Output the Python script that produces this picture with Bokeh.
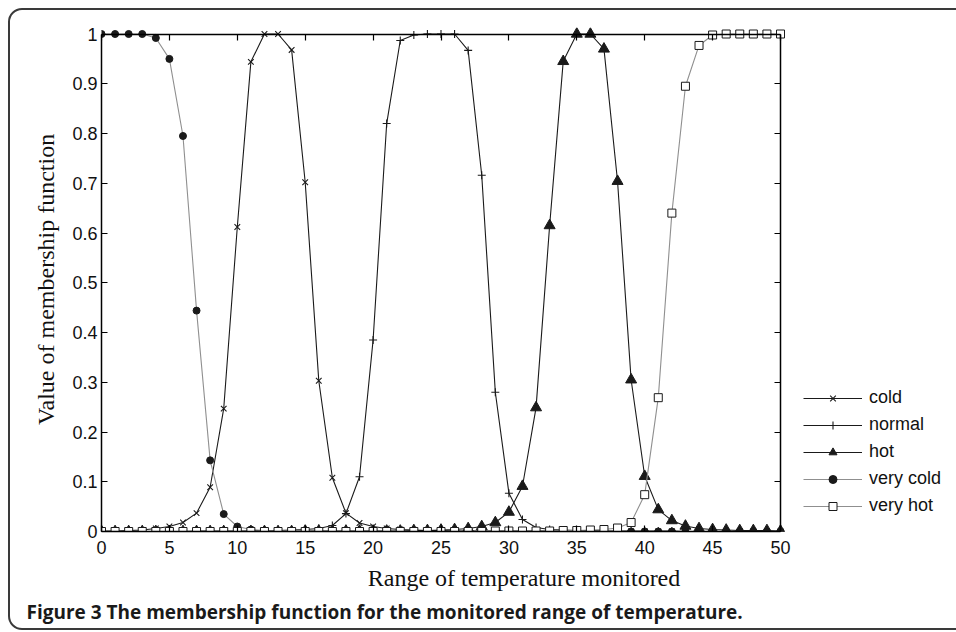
from bokeh.plotting import figure
from bokeh.models import (Range1d, LinearAxis, FixedTicker, Legend, LegendItem,
                          Title, InlineStyleSheet)
from bokeh.embed import file_html
from bokeh.resources import INLINE

temperature = list(range(0, 51))

cold = [0.001, 0.001, 0.002, 0.003, 0.006, 0.010, 0.018, 0.037, 0.089, 0.247,
        0.612, 0.944, 1.000, 1.000, 0.968, 0.702, 0.303, 0.108, 0.037, 0.017,
        0.010, 0.006, 0.004, 0.003, 0.002, 0.002, 0.001, 0.001, 0.001, 0.001,
        0.001, 0.001, 0.001, 0.001, 0.001, 0.001, 0.001, 0.000, 0.000, 0.000,
        0.000, 0.000, 0.000, 0.000, 0.000, 0.000, 0.000, 0.000, 0.000, 0.000,
        0.000]
normal = [0.000, 0.000, 0.000, 0.000, 0.000, 0.000, 0.000, 0.001, 0.001, 0.001,
          0.001, 0.001, 0.002, 0.002, 0.003, 0.004, 0.006, 0.012, 0.036, 0.110,
          0.385, 0.820, 0.987, 0.998, 1.000, 1.000, 1.000, 0.967, 0.716, 0.280,
          0.077, 0.024, 0.008, 0.004, 0.003, 0.002, 0.002, 0.001, 0.001, 0.001,
          0.001, 0.001, 0.001, 0.000, 0.000, 0.000, 0.000, 0.000, 0.000, 0.000,
          0.000]
hot = [0.000, 0.000, 0.000, 0.000, 0.000, 0.000, 0.000, 0.000, 0.000, 0.000,
       0.000, 0.000, 0.000, 0.000, 0.000, 0.001, 0.001, 0.001, 0.001, 0.001,
       0.001, 0.001, 0.001, 0.002, 0.002, 0.003, 0.004, 0.006, 0.010, 0.018,
       0.039, 0.091, 0.249, 0.615, 0.945, 1.000, 1.000, 0.970, 0.704, 0.305,
       0.111, 0.044, 0.022, 0.011, 0.006, 0.004, 0.003, 0.002, 0.002, 0.002,
       0.001]
very_cold = [1.000, 1.000, 1.000, 1.000, 0.992, 0.950, 0.795, 0.444, 0.143, 0.035,
             0.010, 0.004, 0.002, 0.001, 0.001, 0.001, 0.000, 0.000, 0.000, 0.000,
             0.000, 0.000, 0.000, 0.000, 0.000, 0.000, 0.000, 0.000, 0.000, 0.000,
             0.000, 0.000, 0.000, 0.000, 0.000, 0.000, 0.000, 0.000, 0.000, 0.000,
             0.000, 0.000, 0.000, 0.000, 0.000, 0.000, 0.000, 0.000, 0.000, 0.000,
             0.000]
very_hot = [0.000, 0.000, 0.000, 0.000, 0.000, 0.000, 0.000, 0.000, 0.000, 0.000,
            0.000, 0.000, 0.000, 0.000, 0.000, 0.000, 0.000, 0.000, 0.000, 0.000,
            0.000, 0.000, 0.000, 0.000, 0.000, 0.000, 0.000, 0.000, 0.000, 0.001,
            0.001, 0.001, 0.001, 0.001, 0.002, 0.002, 0.003, 0.004, 0.007, 0.018,
            0.074, 0.269, 0.640, 0.895, 0.977, 0.998, 1.000, 1.000, 1.000, 1.000,
            1.000]

series_names = ["cold", "normal", "hot", "very cold", "very hot"]
x_ticks = [0, 5, 10, 15, 20, 25, 30, 35, 40, 45, 50]
y_ticks = [0, 0.1, 0.2, 0.3, 0.4, 0.5, 0.6, 0.7, 0.8, 0.9, 1]
y_tick_labels = ["0", "0.1", "0.2", "0.3", "0.4", "0.5", "0.6", "0.7", "0.8", "0.9", "1"]
x_min, x_max = 0, 50
y_min, y_max = 0, 1

x_label = "Range of temperature monitored"
y_label = "Value of membership function"
caption = "Figure 3 The membership function for the monitored range of temperature."

TICK_FONT = "Liberation Sans"
SERIF = "Liberation Serif"

# frame geometry (pixels): the axes box starts at the frame's left/bottom edges,
# the frame continues to the right (legend area) and a little above y=1
W, H = 956, 632
FL, FR, FT, FB = 101, 946, 27, 531
AR, AT = 780.0, 33.5
sx = (AR - FL) / (x_max - x_min)
sy = (FB - AT) / (y_max - y_min)
x_range = Range1d(x_min, x_max + (FR - AR) / sx)
y_range = Range1d(y_min, y_max + (AT - FT) / sy)

p = figure(width=W, height=H, output_backend="svg", toolbar_location=None,
           x_range=x_range, y_range=y_range,
           min_border_left=FL, min_border_right=W - FR, min_border_top=FT,
           min_border_bottom=H - FB)
p.grid.visible = False
p.outline_line_color = None
p.background_fill_color = "white"
p.border_fill_color = "white"

# rounded figure frame (page decoration)
p.stylesheets = [InlineStyleSheet(css="""
:host { position: relative; overflow: hidden; }
:host::after {
  content: ""; position: absolute; left: 8px; top: 8px; right: -40px; bottom: 2px;
  border: 2px solid #3a3a3a; border-radius: 14px; pointer-events: none;
}
""")]


def style_axis(ax, show_labels=True):
    ax.axis_line_color = "black"
    ax.axis_line_width = 1.5
    ax.major_tick_line_color = "black"
    ax.major_tick_line_width = 1.2
    ax.major_tick_in = 6
    ax.major_tick_out = 0
    ax.minor_tick_in = 0
    ax.minor_tick_out = 0
    ax.minor_tick_line_color = None
    if show_labels:
        ax.major_label_text_font = TICK_FONT
        ax.major_label_text_font_size = "18px"
        ax.major_label_text_color = "#111111"
    else:
        ax.major_label_text_font_size = "0px"
        ax.major_label_text_color = None
        ax.major_label_standoff = 0


xa = p.xaxis[0]
xa.ticker = FixedTicker(ticks=x_ticks)
xa.bounds = (x_min, x_max)
style_axis(xa)
xa.major_label_standoff = 9
xa.axis_label = x_label
xa.axis_label_text_font = SERIF
xa.axis_label_text_font_size = "24px"
xa.axis_label_text_font_style = "normal"
xa.axis_label_text_color = "#111111"
xa.axis_label_standoff = 8

ya = p.yaxis[0]
ya.ticker = FixedTicker(ticks=y_ticks)
ya.bounds = (y_min, y_max)
style_axis(ya)
ya.major_label_standoff = 4
ya.major_label_overrides = dict(zip(y_ticks, y_tick_labels))
ya.axis_label = y_label
ya.axis_label_text_font = SERIF
ya.axis_label_text_font_size = "24px"
ya.axis_label_text_font_style = "normal"
ya.axis_label_text_color = "#111111"
ya.axis_label_standoff = 10

# box edges at x = 50 and y = 1 with inward ticks
ra = LinearAxis(ticker=FixedTicker(ticks=y_ticks), fixed_location=x_max,
                bounds=(y_min, y_max))
style_axis(ra, show_labels=False)
p.add_layout(ra, "right")
ta = LinearAxis(ticker=FixedTicker(ticks=x_ticks), fixed_location=y_max,
                bounds=(x_min, x_max))
style_axis(ta, show_labels=False)
p.add_layout(ta, "above")

BLACK = "#1a1a1a"
GREY = "#8f8f8f"

items = []
l = p.line(temperature, cold, line_color=BLACK, line_width=1.1)
s = p.scatter(temperature, cold, marker="x", size=8, line_color=BLACK, line_width=1.1)
items.append(LegendItem(label=series_names[0], renderers=[l, s]))

l = p.line(temperature, normal, line_color=BLACK, line_width=1.1)
s = p.scatter(temperature, normal, marker="cross", size=8, line_color=BLACK, line_width=1.1)
items.append(LegendItem(label=series_names[1], renderers=[l, s]))

l = p.line(temperature, hot, line_color=BLACK, line_width=1.1)
s = p.scatter(temperature, hot, marker="triangle", size=11, line_color=BLACK,
              fill_color=BLACK, line_width=1)
items.append(LegendItem(label=series_names[2], renderers=[l, s]))

l = p.line(temperature, very_cold, line_color=GREY, line_width=1.1)
s = p.scatter(temperature, very_cold, marker="circle", size=7, line_color=BLACK,
              fill_color=BLACK, line_width=1)
items.append(LegendItem(label=series_names[3], renderers=[l, s]))

l = p.line(temperature, very_hot, line_color=GREY, line_width=1.1)
s = p.scatter(temperature, very_hot, marker="square", size=8, line_color=BLACK,
              fill_color="white", line_width=1)
items.append(LegendItem(label=series_names[4], renderers=[l, s]))

legend = Legend(items=items, location=(803 - FL, FB - 516), orientation="vertical",
                label_text_font=TICK_FONT, label_text_font_size="18px",
                label_text_color="#111111", glyph_width=59, glyph_height=20,
                label_height=20, label_standoff=7, spacing=6,
                padding=0, margin=0, border_line_color=None,
                background_fill_alpha=0)
p.add_layout(legend, "center")

cap = Title(text=caption, align="left", offset=26 - FL, standoff=6,
            text_font="Open Sans", text_font_size="19px", text_font_style="bold",
            text_color="#1a1a1a")
p.add_layout(cap, "below")

open("out.html", "w").write(file_html(p, INLINE))
